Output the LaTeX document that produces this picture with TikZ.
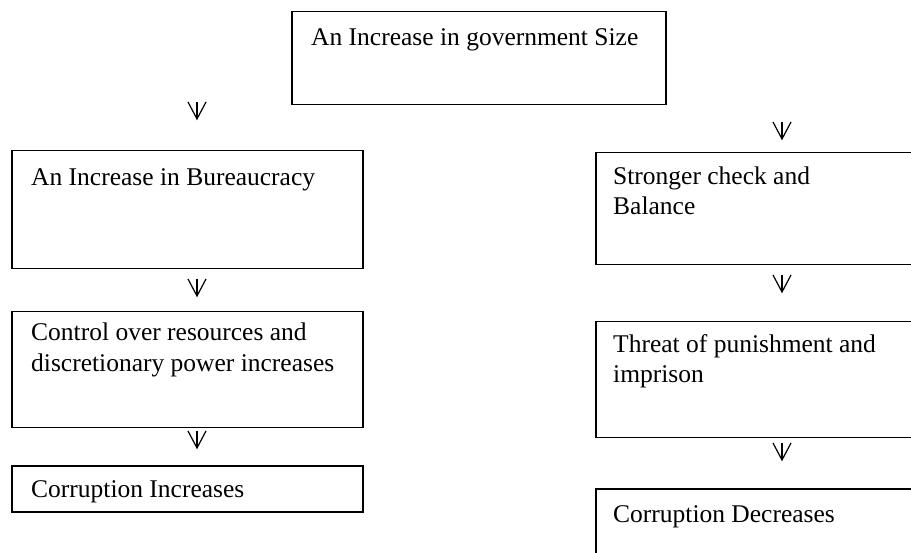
\documentclass[tikz,border=0pt]{standalone}
\usepackage{fontspec}
\setmainfont{Liberation Serif}
\usetikzlibrary{calc}
\tikzset{
  box/.style={draw=black, line width=1.5pt, rectangle, inner sep=0pt, anchor=north west},
  txt/.style={inner sep=0pt, anchor=base west, font=\fontsize{25.5}{30}\selectfont},
  vline/.style={draw=black, line width=1.2pt}
}
\newcommand{\varrow}[3]{%
  \coordinate (#1t) at (#2,#3);
  \coordinate (#1b) at (#2,#3+17);
  \draw[vline] (#1t) -- (#1b);
  \draw[vline] ($(#1t)+(-9,0)$) -- (#1b) -- ($(#1t)+(9,0)$);
}
\begin{document}
\begin{tikzpicture}[x=1pt,y=-1pt]
\useasboundingbox (0,0) rectangle (911,553);
\clip (0,0) rectangle (911,553);
\fill[white] (0,0) rectangle (911,553);
% top box
\node[box, minimum width=374pt, minimum height=93pt] (top) at (291,11) {};
\node[txt] (toptxt) at (311,46) {An Increase in government Size};
% left column
\node[box, minimum width=351pt, minimum height=118pt] (l1) at (11,150) {};
\node[txt] (l1txt) at (31,186) {An Increase in Bureaucracy};
\node[box, minimum width=351pt, minimum height=116pt] (l2) at (11,311) {};
\node[txt] (l2txta) at (31,341) {Control over resources and};
\node[txt] (l2txtb) at (31,372) {discretionary power increases};
\node[box, minimum width=351pt, minimum height=46pt] (l3) at (11,465) {};
\node[txt] (l3txt) at (31,497) {Corruption Increases};
% right column
\node[box, minimum width=340pt, minimum height=112pt] (r1) at (595,152) {};
\node[txt] (r1txta) at (613,185) {Stronger check and};
\node[txt] (r1txtb) at (613,215) {Balance};
\node[box, minimum width=340pt, minimum height=116pt] (r2) at (595,321) {};
\node[txt] (r2txta) at (613,353) {Threat of punishment and};
\node[txt] (r2txtb) at (613,383) {imprison};
\node[box, minimum width=340pt, minimum height=100pt] (r3) at (595,488) {};
\node[txt] (r3txt) at (613,522) {Corruption Decreases};
% arrows
\varrow{a1}{197}{102}
\varrow{a2}{197}{279}
\varrow{a3}{197}{431}
\varrow{a4}{782}{122}
\varrow{a5}{782}{275}
\varrow{a6}{782}{443}
\end{tikzpicture}
\end{document}
